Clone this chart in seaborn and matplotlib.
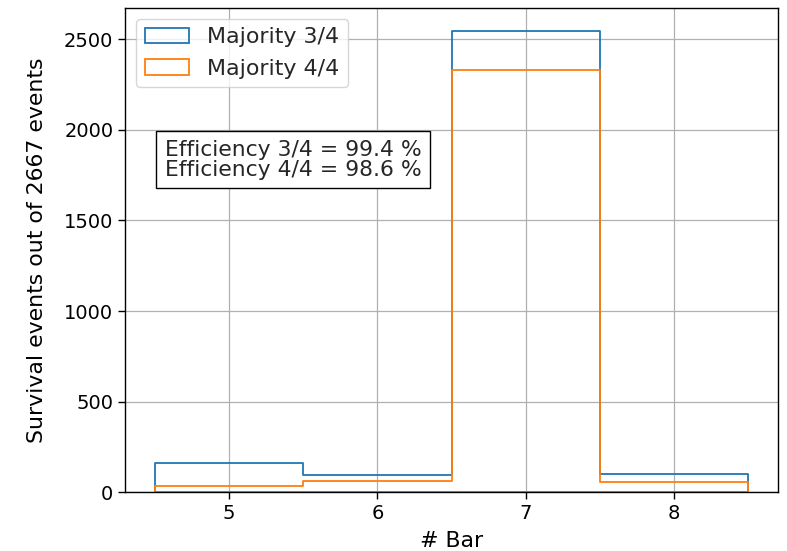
import numpy as np
import pandas as pd
import seaborn as sns
import matplotlib
matplotlib.use("Agg")
import matplotlib.pyplot as plt
from matplotlib.patches import Patch

# Surviving events per bar, for each majority condition
bars = [5, 6, 7, 8]
majority_34 = [163, 94, 2546, 99]
majority_44 = [36, 64, 2329, 55]
series_labels = ["Majority 3/4", "Majority 4/4"]
bin_edges = [4.5, 5.5, 6.5, 7.5, 8.5]
efficiency_34 = 99.4
efficiency_44 = 98.6
total_events = 2667

series = {series_labels[0]: majority_34, series_labels[1]: majority_44}

sns.set_theme(style="ticks")
plt.rcParams["font.family"] = ["DejaVu Sans"]

colors = ["#1f77b4", "#ff7f0e"]
fig = plt.figure(figsize=(7.87, 5.51), dpi=100)
ax = fig.add_axes([0.159, 0.1065, 0.8296, 0.8797])

# Outline-only step histograms, drawn in order so the second lies on top
for label, color in zip(series_labels, colors):
    df = pd.DataFrame({"bar": bars, "count": series[label]})
    sns.histplot(data=df, x="bar", weights="count", bins=bin_edges,
                 element="step", fill=True, facecolor="none", color=color,
                 linewidth=1.3, ax=ax)

ax.grid(True, color="#b0b0b0", linewidth=0.9)
ax.set_axisbelow(True)
ax.set_xticks(bars)
ax.set_xlim(4.3, 8.7)
ax.set_ylim(0, max(majority_34) * 1.05)
ax.set_yticks([0, 500, 1000, 1500, 2000, 2500])
ax.tick_params(labelsize=14, length=5, width=1, color="black", labelcolor="black")
for s in ax.spines.values():
    s.set_color("black")
    s.set_linewidth(1)
    s.set_zorder(3)

ax.set_xlabel("# Bar", fontsize=15.8, color="black", labelpad=6)
ax.set_ylabel(f"Survival events out of {total_events} events", fontsize=15.8,
              color="black", labelpad=12)

handles = [Patch(facecolor="none", edgecolor=c, linewidth=1.3) for c in colors]
ax.legend(handles, series_labels, loc="upper left", fontsize=15.9, frameon=True)

ax.text(0.061, 0.6866,
        f"Efficiency 3/4 = {efficiency_34} %\nEfficiency 4/4 = {efficiency_44} %",
        transform=ax.transAxes, fontsize=15.75, va="center", ha="left", linespacing=1.0,
        bbox=dict(boxstyle="square,pad=0.4", facecolor="white", edgecolor="black"))

fig.savefig("out.png", dpi=100)
